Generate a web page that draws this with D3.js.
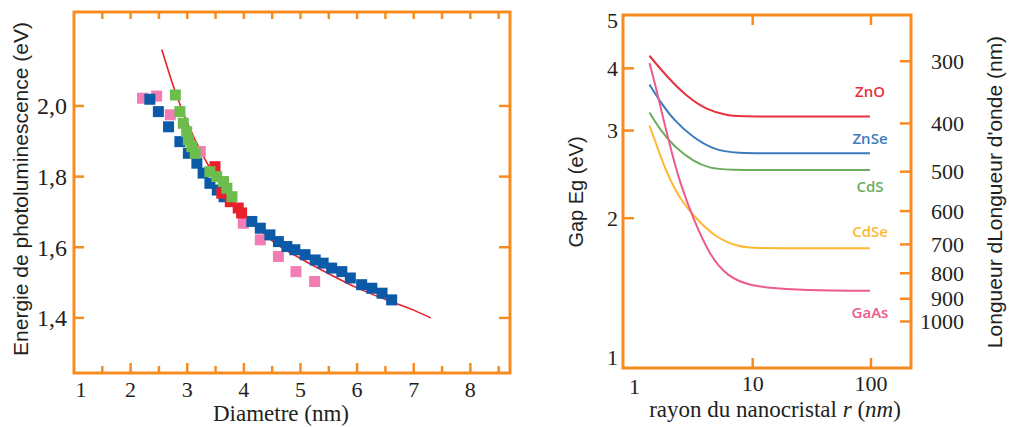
<!DOCTYPE html>
<html>
<head>
<meta charset="utf-8">
<script src="https://cdn.jsdelivr.net/npm/d3@7"></script>
<style>
body { margin: 0; background: #fff; }
</style>
</head>
<body>
<script>
var orange = "#f68b1f";
var serif = "Liberation Serif, Times New Roman, serif";
var sans = "Liberation Sans, Arial, sans-serif";

// ---- left panel data (diametre nm, energie eV) ----
var diamTicks = [1, 2, 3, 4, 5, 6, 7, 8];
var diamMinor = [1.5, 2.5, 3.5, 4.5, 5.5, 6.5, 7.5, 8.5];
var energyTicks = [1.4, 1.6, 1.8, 2.0];

var pinkPts = [[2.21, 2.022], [2.46, 2.028], [2.70, 1.975], [3.23, 1.871], [3.99, 1.668],
  [4.29, 1.621], [4.61, 1.574], [4.92, 1.531], [5.25, 1.503]];
var bluePts = [[2.34, 2.019], [2.49, 1.984], [2.67, 1.941], [2.87, 1.899], [3.02, 1.866],
  [3.17, 1.838], [3.28, 1.810], [3.40, 1.781], [3.53, 1.762], [3.65, 1.743],
  [4.14, 1.673], [4.29, 1.654], [4.46, 1.635], [4.61, 1.616], [4.76, 1.602],
  [4.90, 1.593], [5.08, 1.579], [5.26, 1.564], [5.40, 1.555], [5.55, 1.541],
  [5.73, 1.531], [5.88, 1.513], [6.08, 1.494], [6.26, 1.484], [6.44, 1.470], [6.61, 1.451]];
var redPts = [[3.49, 1.828], [3.61, 1.753], [3.76, 1.729], [3.90, 1.711], [3.96, 1.697]];
var greenPts = [[2.79, 2.031], [2.87, 1.984], [2.93, 1.951], [2.99, 1.927], [3.02, 1.904],
  [3.08, 1.885], [3.14, 1.866], [3.40, 1.814], [3.52, 1.800], [3.64, 1.786],
  [3.70, 1.767], [3.79, 1.743]];

var fitD = [2.55, 2.8, 3.0, 3.25, 3.5, 3.75, 4.0, 4.5, 5.0, 5.5, 6.0, 6.5, 7.0, 7.3];
var fitE = [2.16, 2.035, 1.953, 1.868, 1.798, 1.740, 1.695, 1.618, 1.568, 1.525, 1.485, 1.452, 1.422, 1.40];

// ---- right panel data (rayon nm, gap eV) ----
var gapTicks = [2, 3, 4];
var gapLabels = [1, 2, 3, 4, 5];
var rayonLabels = [1, 10, 100];
var rayonTicks = [10, 100];
var waveTicks = [300, 400, 500, 600, 700, 800, 900, 1000];

var znoCurve = [[1.34, 4.24], [1.88, 3.85], [2.77, 3.51], [4.09, 3.30], [6.04, 3.22], [7.34, 3.20], [20, 3.20], [98, 3.20]];
var znseCurve = [[1.34, 3.71], [1.65, 3.43], [2.14, 3.15], [3.15, 2.90], [4.65, 2.75], [6.87, 2.70], [20, 2.70], [98, 2.70]];
var cdsCurve = [[1.34, 3.26], [1.65, 3.01], [2.14, 2.79], [3.15, 2.60], [4.36, 2.52], [5.84, 2.50], [20, 2.50], [98, 2.50]];
var cdseCurve = [[1.34, 3.07], [1.55, 2.79], [1.88, 2.46], [2.43, 2.18], [3.37, 1.99], [4.97, 1.82], [7.82, 1.75], [10.1, 1.74], [30, 1.74], [98, 1.74]];
var gaasCurve = [[1.34, 4.10], [1.50, 3.71], [1.71, 3.25], [2.00, 2.79], [2.43, 2.35], [3.15, 1.99],
  [4.36, 1.68], [6.04, 1.53], [9.5, 1.46], [18.2, 1.44], [50, 1.43], [98, 1.43]];

var seriesNames = ["ZnO", "ZnSe", "CdS", "CdSe", "GaAs"];
var seriesColors = ["#e8313d", "#3a7bc0", "#6aae5c", "#fdb933", "#ec5b8c"];
var seriesCurves = [znoCurve, znseCurve, cdsCurve, cdseCurve, gaasCurve];
var seriesLabelE = [3.59, 2.89, 2.31, 1.88, 1.29];

var svg = d3.select("body").append("svg")
  .attr("width", 1009)
  .attr("height", 427);

// =================== LEFT PANEL ===================
var x = d3.scaleLinear().domain([1, 8.7]).range([74, 510]);
var y = d3.scaleLinear().domain([1.244, 2.266]).range([373, 12]);
var left = svg.append("g");

// ticks
left.selectAll(".xb").data(diamTicks.slice(1)).enter().append("line")
  .attr("x1", function (d) { return x(d); }).attr("x2", function (d) { return x(d); })
  .attr("y1", 373).attr("y2", 363).attr("stroke", orange).attr("stroke-width", 2.5);
left.selectAll(".xbm").data(diamMinor).enter().append("line")
  .attr("x1", function (d) { return x(d); }).attr("x2", function (d) { return x(d); })
  .attr("y1", 373).attr("y2", 366).attr("stroke", orange).attr("stroke-width", 2.5);
left.selectAll(".xt").data(diamTicks.slice(1).concat(diamMinor)).enter().append("line")
  .attr("x1", function (d) { return x(d); }).attr("x2", function (d) { return x(d); })
  .attr("y1", 12).attr("y2", 19).attr("stroke", orange).attr("stroke-width", 2.5);
left.selectAll(".yl").data(energyTicks).enter().append("line")
  .attr("x1", 74).attr("x2", 84)
  .attr("y1", function (d) { return y(d); }).attr("y2", function (d) { return y(d); })
  .attr("stroke", orange).attr("stroke-width", 2.5);
left.selectAll(".yr").data(energyTicks).enter().append("line")
  .attr("x1", 510).attr("x2", 499)
  .attr("y1", function (d) { return y(d); }).attr("y2", function (d) { return y(d); })
  .attr("stroke", orange).attr("stroke-width", 2.5);

// fit curve
var fitLine = d3.line()
  .x(function (d, i) { return x(fitD[i]); })
  .y(function (d) { return y(d); })
  .curve(d3.curveMonotoneX);
left.append("path").datum(fitE)
  .attr("d", fitLine)
  .attr("fill", "none").attr("stroke", "#e8202a").attr("stroke-width", 1.6);

// squares
var sq = 11;
function drawSquares(pts, color) {
  left.append("g").selectAll("rect").data(pts).enter().append("rect")
    .attr("x", function (d) { return x(d[0]) - sq / 2; })
    .attr("y", function (d) { return y(d[1]) - sq / 2; })
    .attr("width", sq).attr("height", sq)
    .style("fill", color);
}
drawSquares(pinkPts, "#f27cb4");
drawSquares(bluePts, "#0b5aa8");
drawSquares(redPts, "#e8202a");
drawSquares(greenPts, "#6cbd4c");

// frame
left.append("rect").attr("x", 74).attr("y", 12).attr("width", 436).attr("height", 361)
  .attr("fill", "none").attr("stroke", orange).attr("stroke-width", 3);

// tick labels
left.selectAll(".xlab").data(diamTicks).enter().append("text")
  .attr("x", function (d) { return Math.max(x(d), 81); })
  .attr("y", 397)
  .attr("text-anchor", "middle")
  .style("font-family", serif).style("font-size", "22px").style("fill", "#231f20")
  .text(function (d) { return d; });
left.selectAll(".ylab").data(energyTicks).enter().append("text")
  .attr("x", 67)
  .attr("y", function (d) { return y(d); })
  .attr("dy", "0.35em")
  .attr("text-anchor", "end")
  .style("font-family", serif).style("font-size", "24px").style("fill", "#231f20")
  .text(function (d) { return d3.format(".1f")(d).replace(".", ","); });

left.append("text")
  .attr("x", 281).attr("y", 421)
  .attr("text-anchor", "middle")
  .style("font-family", serif).style("font-size", "23px").style("fill", "#231f20")
  .text("Diametre (nm)");
left.append("text")
  .attr("transform", "translate(28,189) rotate(-90)")
  .attr("text-anchor", "middle")
  .style("font-family", sans).style("font-size", "21px").style("fill", "#231f20")
  .text("Energie de photoluminescence  (eV)");

// =================== RIGHT PANEL ===================
var xr = d3.scaleLog().domain([0.8, 218]).range([623, 911]);
var yr = d3.scaleLog().domain([1, 5.12]).range([368, 15]);
var right = svg.append("g");

right.selectAll(".gt").data(gapTicks).enter().append("line")
  .attr("x1", 623).attr("x2", 634)
  .attr("y1", function (d) { return yr(d); }).attr("y2", function (d) { return yr(d); })
  .attr("stroke", orange).attr("stroke-width", 2.5);
right.selectAll(".wt").data(waveTicks).enter().append("line")
  .attr("x1", 911).attr("x2", 900)
  .attr("y1", function (d) { return yr(1240 / d); }).attr("y2", function (d) { return yr(1240 / d); })
  .attr("stroke", orange).attr("stroke-width", 2.5);
right.selectAll(".rb").data(rayonTicks).enter().append("line")
  .attr("x1", function (d) { return xr(d); }).attr("x2", function (d) { return xr(d); })
  .attr("y1", 368).attr("y2", 358)
  .attr("stroke", orange).attr("stroke-width", 2.5);
right.selectAll(".rt").data(rayonTicks).enter().append("line")
  .attr("x1", function (d) { return xr(d); }).attr("x2", function (d) { return xr(d); })
  .attr("y1", 15).attr("y2", 25)
  .attr("stroke", orange).attr("stroke-width", 2.5);

var gapLine = d3.line()
  .x(function (d) { return xr(d[0]); })
  .y(function (d) { return yr(d[1]); })
  .curve(d3.curveBasis);

right.selectAll(".curve").data(seriesCurves).enter().append("path")
  .attr("d", gapLine)
  .attr("fill", "none")
  .attr("stroke", function (d, i) { return seriesColors[i]; })
  .attr("stroke-width", 2);

right.selectAll(".slab").data(seriesNames).enter().append("text")
  .attr("x", 870)
  .attr("y", function (d, i) { return yr(seriesLabelE[i]); })
  .attr("dy", "0.35em")
  .attr("text-anchor", "middle")
  .style("font-family", "Open Sans, sans-serif").style("font-size", "15px").style("font-weight", 600)
  .style("fill", function (d, i) { return seriesColors[i]; })
  .text(function (d) { return d; });

right.append("rect").attr("x", 623).attr("y", 15).attr("width", 288).attr("height", 353)
  .attr("fill", "none").attr("stroke", orange).attr("stroke-width", 3);

right.selectAll(".glab").data(gapLabels).enter().append("text")
  .attr("x", 618)
  .attr("y", function (d) { return Math.min(yr(d), 357); })
  .attr("dy", "0.35em")
  .attr("text-anchor", "end")
  .style("font-family", serif).style("font-size", "22px").style("fill", "#231f20")
  .text(function (d) { return d; });
right.selectAll(".wlab").data(waveTicks).enter().append("text")
  .attr("x", 964)
  .attr("y", function (d) { return yr(1240 / d); })
  .attr("dy", "0.35em")
  .attr("text-anchor", "end")
  .style("font-family", serif).style("font-size", "22px").style("fill", "#231f20")
  .text(function (d) { return d; });
right.selectAll(".xrlab").data(rayonLabels).enter().append("text")
  .attr("x", function (d) { return Math.max(xr(d), 628); })
  .attr("y", function (d) { return d === 1 ? 394 : 391; })
  .attr("text-anchor", "middle")
  .style("font-family", serif).style("font-size", "22px").style("fill", "#231f20")
  .text(function (d) { return d; });

var xTitle = right.append("text")
  .attr("x", 775).attr("y", 417)
  .attr("text-anchor", "middle")
  .style("font-family", serif).style("font-size", "23px").style("fill", "#231f20");
xTitle.append("tspan").text("rayon du nanocristal ");
xTitle.append("tspan").style("font-style", "italic").text("r");
xTitle.append("tspan").text(" (");
xTitle.append("tspan").style("font-style", "italic").text("nm");
xTitle.append("tspan").text(")");

right.append("text")
  .attr("transform", "translate(583,192) rotate(-90)")
  .attr("text-anchor", "middle")
  .style("font-family", sans).style("font-size", "20px").style("fill", "#231f20")
  .text("Gap Eg (eV)");
right.append("text")
  .attr("transform", "translate(1002,192) rotate(-90)")
  .attr("text-anchor", "middle")
  .style("font-family", sans).style("font-size", "21px").style("fill", "#231f20")
  .text("Longueur dLongueur  d'onde (nm)");
</script>
</body>
</html>
